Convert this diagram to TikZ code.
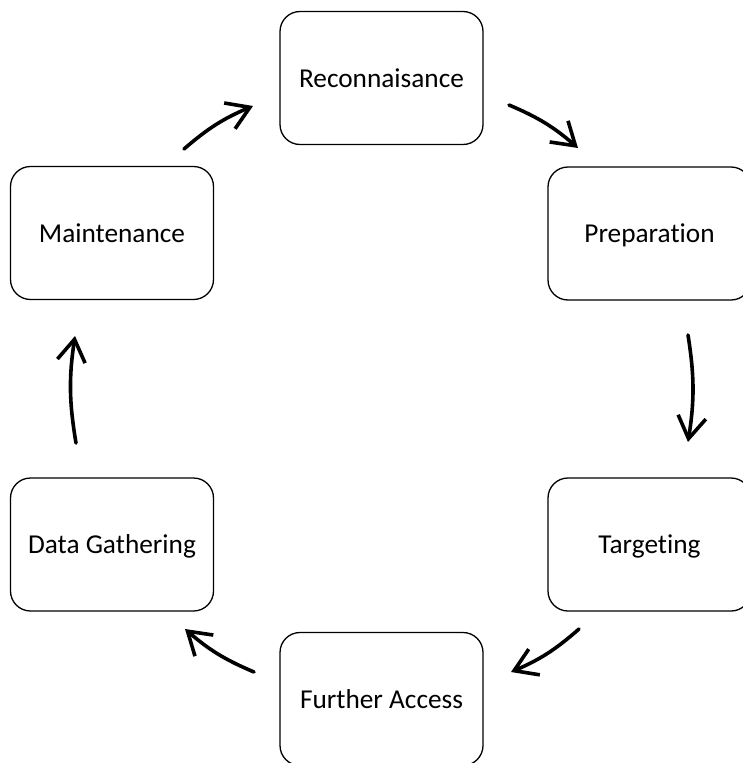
\documentclass[tikz,border=0pt]{standalone}
\usepackage{fontspec}
\setmainfont{Carlito}[Ligatures=CommonOff]
\usetikzlibrary{arrows.meta}
\begin{document}
\begin{tikzpicture}[x=1pt,y=-1pt,
  stage/.style={draw=black, line width=1.3pt, rounded corners=20pt,
    minimum width=203pt, minimum height=133pt, inner sep=0pt,
    text height=22pt, text depth=4pt,
    font=\fontsize{27.3}{32}\selectfont, fill=white},
  flow/.style={line width=3.6pt, line cap=round, line join=round,
    -{Straight Barb[length=22pt,width=28pt,line width=3.6pt]}, bend left=9},
]
\useasboundingbox (0,0) rectangle (742,763);

% the six stages of the cycle
\node[stage] (recon)   at (381.5,78)  {Reconnaisance};
\node[stage] (prep)    at (649.5,233.5) {Preparation};
\node[stage] (target)  at (649.5,544.5) {Targeting};
\node[stage] (further) at (381.5,699) {Further Access};
\node[stage] (data)    at (112,544.5) {Data Gathering};
\node[stage] (maint)   at (112,233)   {Maintenance};

% free ends of the arrows between the stages
\coordinate (a1s) at (184,149); \coordinate (a1e) at (253,106);
\coordinate (a2s) at (509,105); \coordinate (a2e) at (578,148);
\coordinate (a3s) at (688,335); \coordinate (a3e) at (688,442);
\coordinate (a4s) at (579,629); \coordinate (a4e) at (511,672);
\coordinate (a5s) at (254,672); \coordinate (a5e) at (185,629);
\coordinate (a6s) at (76,443);  \coordinate (a6e) at (75,336);

\draw[flow] (a1s) to (a1e);
\draw[flow] (a2s) to (a2e);
\draw[flow] (a3s) to (a3e);
\draw[flow] (a4s) to (a4e);
\draw[flow] (a5s) to (a5e);
\draw[flow] (a6s) to (a6e);
\end{tikzpicture}
\end{document}
